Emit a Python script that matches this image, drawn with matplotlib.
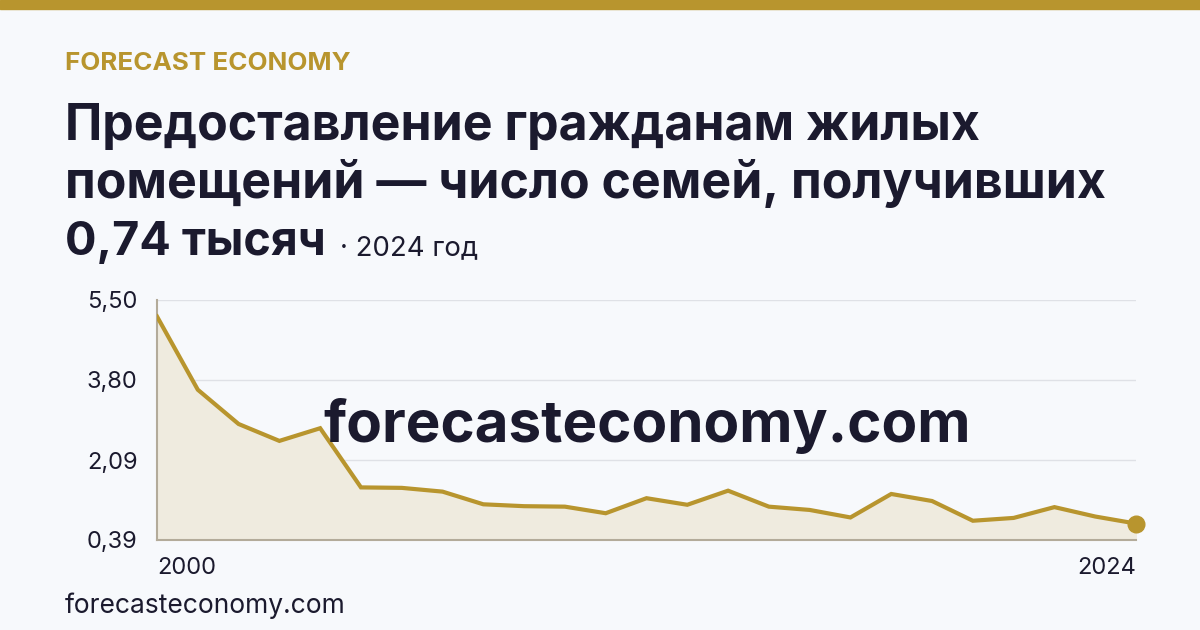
import numpy as np
import matplotlib.pyplot as plt

years = list(range(2000, 2025))
values = [5.15, 3.59, 2.86, 2.50, 2.77, 1.51, 1.50, 1.42, 1.15, 1.11,
          1.10, 0.96, 1.28, 1.14, 1.44, 1.10, 1.03, 0.87, 1.37, 1.22,
          0.80, 0.86, 1.09, 0.89, 0.74]
yticks = [0.39, 2.09, 3.80, 5.50]
ytick_labels = ['0,39', '2,09', '3,80', '5,50']

gold = '#b8952e'
ink = '#1b1a2e'
bg = '#f7f9fc'

plt.rcParams['font.family'] = ['Inter', 'DejaVu Sans']

W, H = 1200, 630
fig = plt.figure(figsize=(12, 6.3), dpi=100, facecolor=bg)

def px(x, y):
    return x / W, 1 - y / H

# top bar
fig.patches.append(plt.Rectangle((0, 1 - 9 / H), 1, 9 / H, transform=fig.transFigure,
                                 color=gold, zorder=0))

fig.text(*px(65, 70), 'FORECAST ECONOMY', color=gold, fontsize=18.7, fontweight='bold', va='baseline')
fig.text(*px(65, 140), 'Предоставление гражданам жилых', color=ink, fontsize=36,
         fontweight='bold', va='baseline')
fig.text(*px(65, 198), 'помещений — число семей, получивших', color=ink, fontsize=36,
         fontweight='bold', va='baseline')
fig.text(*px(65, 255), '0,74 тысяч', color=ink, fontsize=33.6, fontweight='bold', va='baseline')
fig.text(*px(340, 255), '· 2024 год', color=ink, fontsize=19.8, va='baseline')
fig.text(*px(65, 613), 'forecasteconomy.com', color=ink, fontsize=19, va='baseline')

ax = fig.add_axes([157 / W, 1 - 540 / H, (1136 - 157) / W, 240 / H])
ax.set_facecolor(bg)
ax.fill_between(years, values, 0.39, color='#efebdf', zorder=1)
ax.plot(years, values, color=gold, linewidth=3, zorder=3, solid_joinstyle='miter')
ax.plot(years[-1], values[-1], 'o', color=gold, markersize=12, zorder=4, clip_on=False)
ax.set_xlim(2000, 2024)
ax.set_ylim(0.39, 5.50)
ax.set_yticks(yticks)
ax.set_yticklabels(ytick_labels)
ax.set_xticks([2000, 2024])
ax.set_xticklabels(['2000', '2024'])
ax.xaxis.get_majorticklabels()[0].set_horizontalalignment('left')
ax.xaxis.get_majorticklabels()[1].set_horizontalalignment('right')
ax.tick_params(length=0, labelsize=17, labelcolor=ink, pad=14)
ax.tick_params(axis='x', pad=12)
ax.grid(axis='y', color='#dfe1e6', linewidth=1)
ax.set_axisbelow(True)
for s in ['top', 'right']:
    ax.spines[s].set_visible(False)
for s in ['left', 'bottom']:
    ax.spines[s].set_color('#b3ab9a')
    ax.spines[s].set_linewidth(1.5)

fig.text(*px(647, 442), 'forecasteconomy.com', color=ink, fontsize=42, fontweight='bold',
         ha='center', va='baseline', zorder=10)

plt.savefig('out.png', dpi=100, facecolor=bg)
plt.close()
